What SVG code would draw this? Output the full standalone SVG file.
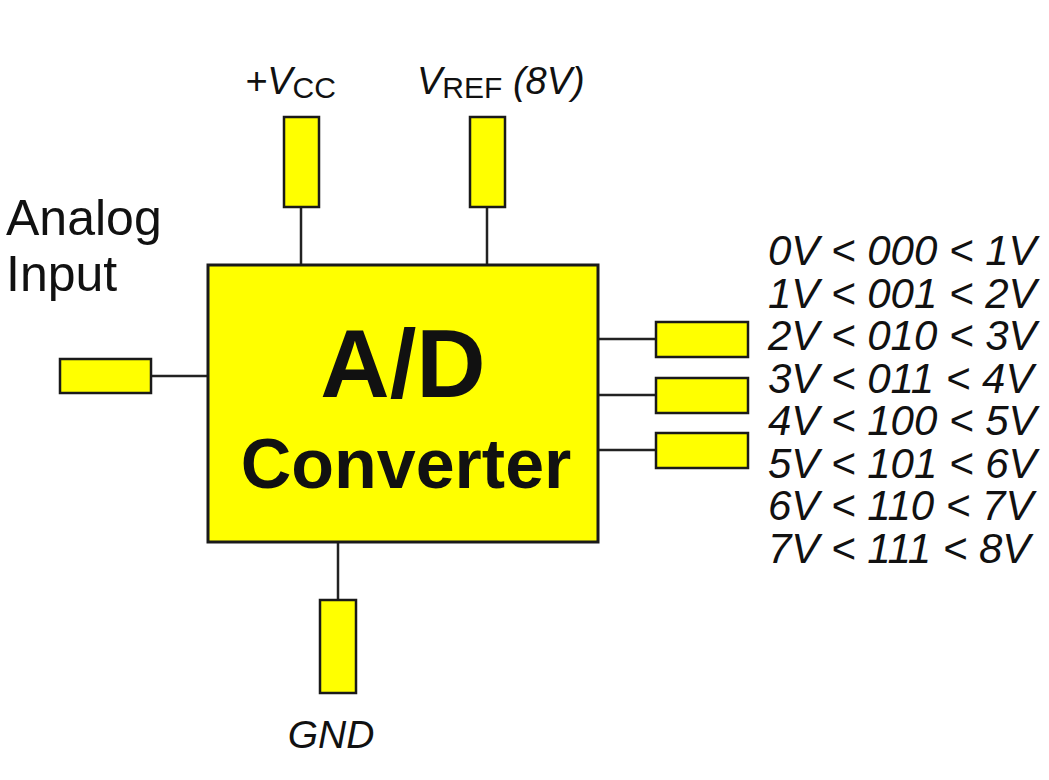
<svg xmlns="http://www.w3.org/2000/svg" width="1049" height="780" viewBox="0 0 1049 780">
<style>
.pin{fill:#ffff00;stroke:#1a1a1a;stroke-width:2.5}
.main{fill:#ffff00;stroke:#1a1a1a;stroke-width:3}
.wire{stroke:#222;stroke-width:2.5;fill:none}
text{font-family:"Liberation Sans",Arial,sans-serif;fill:#111}
.it{font-style:italic}
.out{font-style:italic;font-size:42px}
</style>
<rect width="1049" height="780" fill="#ffffff"/>
<g id="connectors">
<line class="wire" x1="301" y1="207" x2="301" y2="265"/>
<line class="wire" x1="487" y1="207" x2="487" y2="265"/>
<line class="wire" x1="151" y1="376" x2="208" y2="376"/>
<line class="wire" x1="598" y1="339" x2="656" y2="339"/>
<line class="wire" x1="598" y1="395" x2="656" y2="395"/>
<line class="wire" x1="598" y1="450" x2="656" y2="450"/>
<line class="wire" x1="338" y1="542" x2="338" y2="600"/>
</g>
<g id="converter">
<rect class="main" x="208" y="265" width="390" height="277"/>
<text x="403" y="397" font-size="96" font-weight="bold" text-anchor="middle">A/D</text>
<text x="406" y="488" font-size="70" font-weight="bold" text-anchor="middle">Converter</text>
</g>
<g id="vcc">
<rect class="pin" x="284" y="117" width="35" height="90"/>
<text x="245" y="94" font-size="38" class="it">+V<tspan font-style="normal" font-size="30" dy="4">CC</tspan></text>
</g>
<g id="vref">
<rect class="pin" x="470" y="117" width="35" height="90"/>
<text x="417" y="94" font-size="38" class="it">V<tspan font-style="normal" font-size="30" dy="4">REF</tspan><tspan dy="-4"> (8V)</tspan></text>
</g>
<g id="analog-input">
<rect class="pin" x="60" y="359" width="91" height="34"/>
<text x="6" y="235" font-size="50">Analog</text>
<text x="6" y="291" font-size="50">Input</text>
</g>
<g id="out1"><rect class="pin" x="656" y="322" width="92" height="35"/></g>
<g id="out2"><rect class="pin" x="656" y="378" width="92" height="35"/></g>
<g id="out3"><rect class="pin" x="656" y="433" width="92" height="35"/></g>
<g id="gnd">
<rect class="pin" x="320" y="600" width="36" height="93"/>
<text x="331" y="748" font-size="39" class="it" text-anchor="middle">GND</text>
</g>
<g id="output-codes">
<text class="out" x="768" y="265">0V &lt; 000 &lt; 1V</text>
<text class="out" x="768" y="308">1V &lt; 001 &lt; 2V</text>
<text class="out" x="768" y="350">2V &lt; 010 &lt; 3V</text>
<text class="out" x="768" y="393">3V &lt; 011 &lt; 4V</text>
<text class="out" x="768" y="435">4V &lt; 100 &lt; 5V</text>
<text class="out" x="768" y="478">5V &lt; 101 &lt; 6V</text>
<text class="out" x="768" y="520">6V &lt; 110 &lt; 7V</text>
<text class="out" x="768" y="563">7V &lt; 111 &lt; 8V</text>
</g>
</svg>
